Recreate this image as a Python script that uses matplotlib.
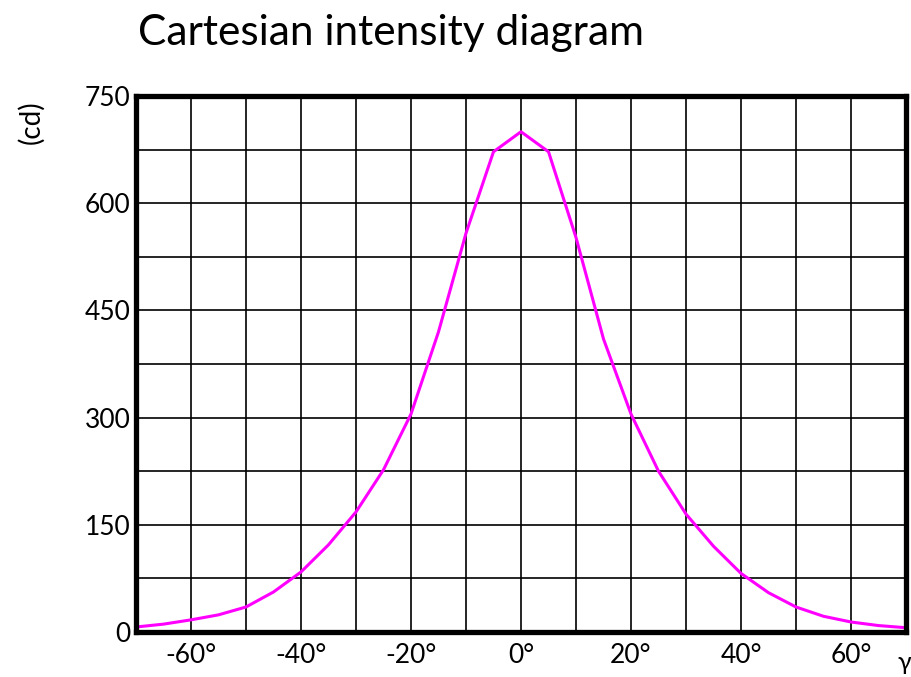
import matplotlib.pyplot as plt
import numpy as np

# luminous intensity (cd) vs gamma angle
angles = [-70, -65, -60, -55, -50, -45, -40, -35, -30, -25, -20, -15, -10, -5,
          0, 5, 10, 15, 20, 25, 30, 35, 40, 45, 50, 55, 60, 65, 70]
intensity = [7, 11, 17, 24, 35, 56, 84, 122, 168, 227, 305, 420, 558, 672,
             700, 672, 552, 410, 305, 225, 165, 120, 82, 55, 35, 22, 14, 9, 6]

x_ticks = [-60, -40, -20, 0, 20, 40, 60]
y_ticks = [0, 150, 300, 450, 600, 750]

plt.rcParams['font.family'] = ['Lato', 'DejaVu Sans']

fig = plt.figure(figsize=(9.12, 6.77), dpi=100)
ax = fig.add_axes([136 / 912, 45 / 677, 770 / 912, 536 / 677])

ax.plot(angles, intensity, color='#ff00ff', lw=2.2, zorder=3)

ax.set_xlim(-70, 70)
ax.set_ylim(0, 750)
ax.set_xticks(np.arange(-70, 71, 10), minor=True)
ax.set_yticks(np.arange(0, 751, 75), minor=True)
ax.set_xticks(x_ticks)
ax.set_xticklabels([f'{t}°' for t in x_ticks])
ax.set_yticks(y_ticks)
ax.grid(True, which='both', color='black', lw=1.2)
ax.tick_params(which='both', length=0, labelsize=19, pad=8)
ax.tick_params(axis='y', pad=4)

for s in ax.spines.values():
    s.set_linewidth(3.8)
    s.set_zorder(4)

fig.text(138 / 912, 1 - 45 / 677, 'Cartesian intensity diagram', fontsize=30.5,
         ha='left', va='baseline')
fig.text(31 / 912, 1 - 122 / 677, '(cd)', fontsize=20, rotation=90,
         ha='center', va='center')
fig.text(904 / 912, 1 - 662 / 677, 'γ', fontsize=18, ha='center', va='center')

fig.savefig('out.png', dpi=100)
